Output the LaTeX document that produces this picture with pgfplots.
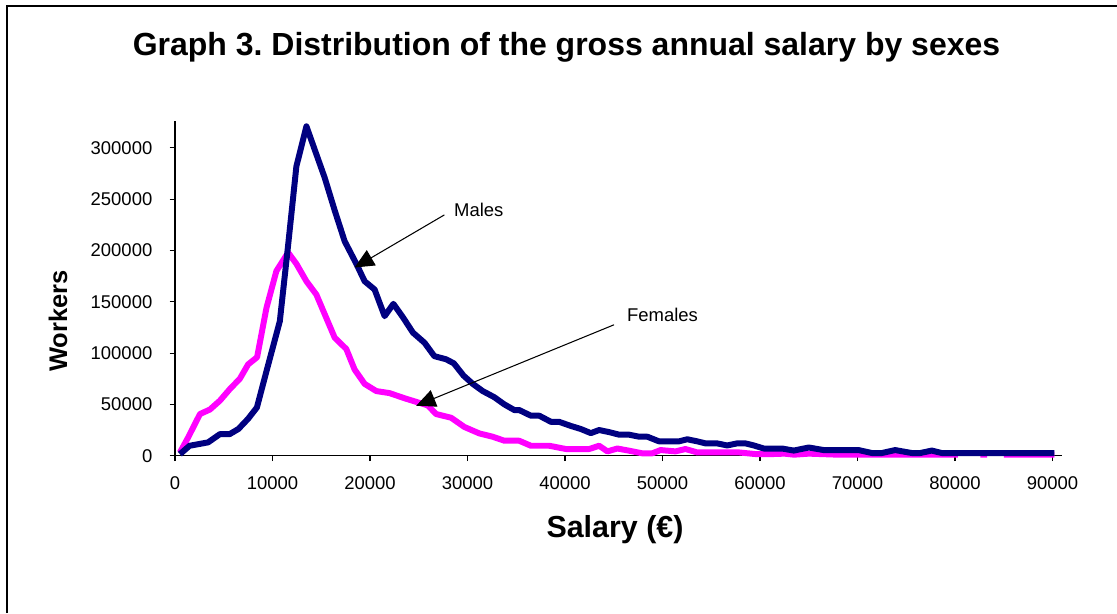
\documentclass[border=0pt]{standalone}
\usepackage{fontspec}
\setmainfont{Liberation Sans}
\usepackage{pgfplots}
\pgfplotsset{compat=1.18}
\usetikzlibrary{arrows.meta}
\definecolor{malenavy}{HTML}{000080}
\definecolor{femmag}{HTML}{FF00FF}
\frenchspacing

\begin{document}
\begin{tikzpicture}
\useasboundingbox (0,0) rectangle (22.34cm,12.26cm);
% outer frame (top and left edges only are visible)
\draw[line width=0.8pt] (0.14cm,0) -- (0.14cm,12.14cm) -- (22.34cm,12.14cm);

\begin{axis}[
    at={(3.5cm,3.146cm)}, anchor=south west,
    width=17.745cm, height=6.69cm, scale only axis,
    xmin=0, xmax=91000, ymin=0, ymax=326000,
    axis lines=left, axis line style={-, line width=0.6pt},
    tick align=outside, major tick length=0.11cm,
    tick style={black, line width=0.6pt},
    xtick={0,10000,...,90000}, ytick={0,50000,...,300000},
    scaled ticks=false,
    /pgf/number format/fixed,
    /pgf/number format/set thousands separator={},
    /pgf/number format/assume math mode=true,
    tick label style={font=\fontsize{10.5}{12}\selectfont},
    yticklabel style={xshift=-0.22cm},
    xticklabel style={yshift=-0.19cm},
    clip=false, unbounded coords=jump,
  ]
  % females
  \addplot[femmag, line width=3.4pt, line join=round] coordinates {
    (500,3000) (1360,18000) (2560,40600) (3580,45000) (4600,53600)
    (5630,65000) (6650,75000) (7500,89000) (8420,96000) (9380,144000)
    (10400,180000) (11600,198000) (12450,187000) (13480,170000) (14500,157000)
    (15350,138000) (16380,115000) (17570,104000) (18420,84000) (19450,70000)
    (20640,63000) (22000,61000) (23540,56000) (24900,52000) (25930,49000)
    (26780,40600) (28320,37000) (29680,28000) (31220,21700) (32580,18500)
    (33780,14600) (35300,14600) (36500,9700) (38380,9700) (40100,6500)
    (42480,6500) (43500,9700) (44350,4200) (45370,7000) (46570,4900)
    (47930,2300) (48950,2300) (49800,5500) (51330,4200) (52350,6500)
    (53560,3200) (57830,3200) (59530,1600) (61000,1500) (62500,2000)
    (63500,1000) (65000,2000) (66500,1500) (68000,1000) (70000,1000)
    (75000,1000) (80300,1000) (81000,nan) (82600,1000) (83300,1000)
    (84000,nan) (85000,1000) (90200,1000)};
  % males
  \addplot[malenavy, line width=3.4pt, line join=round] coordinates {
    (500,1500) (1500,9700) (3400,13000) (4600,21000) (5600,21000)
    (6500,26000) (7500,36000) (8400,47000) (9400,83000) (10750,131000)
    (11600,205000) (12450,282000) (13480,321000) (15350,271000) (16380,239000)
    (17400,209000) (18600,187000) (19450,170000) (20470,162000) (21500,136000)
    (22400,148000) (23370,135000) (24400,120000) (25600,110000) (26600,97000)
    (27800,94000) (28600,90000) (29600,78000) (30540,70000) (31560,63000)
    (32750,57000) (33780,50000) (34800,44500) (35300,44500) (36500,39000)
    (37360,39000) (38560,33000) (39400,33000) (40600,29000) (41630,26000)
    (42650,22000) (43500,25000) (44520,23000) (45550,20500) (46570,20500)
    (47600,18500) (48450,18500) (49640,14000) (50670,14000) (51690,14000)
    (52540,16000) (53560,14000) (54420,12000) (55600,12000) (56630,10000)
    (57660,12000) (58510,12000) (59360,10000) (60390,7000) (62260,7000)
    (63460,5000) (65000,8000) (66530,5500) (70110,5500) (71480,2600)
    (72500,2600) (73860,5500) (75570,2600) (76430,2600) (77620,5000)
    (78640,2600) (90200,2600)};
  % callouts
  \draw[-{Triangle[length=11pt,width=10pt]}, line width=0.6pt]
    (axis cs:27630,234700) -- (axis cs:18420,183400);
  \draw[-{Triangle[length=11pt,width=10pt]}, line width=0.6pt]
    (axis cs:45030,127600) -- (axis cs:24740,48700);
\end{axis}

\node[anchor=west, font=\fontsize{10.5}{12}\selectfont] at (8.96cm,8.07cm) {Males};
\node[anchor=west, font=\fontsize{10.5}{12}\selectfont] at (12.42cm,5.96cm) {Females};
\node[font=\bfseries\fontsize{18.2}{21}\selectfont] at (11.33cm,11.32cm)
  {Graph 3. Distribution of the gross annual salary by sexes};
\node[rotate=90, font=\bfseries\fontsize{14.5}{17}\selectfont] at (1.16cm,5.84cm) {Workers};
\node[font=\bfseries\fontsize{17.3}{20}\selectfont] at (12.3cm,1.66cm) {Salary (€)};
\end{tikzpicture}
\end{document}
